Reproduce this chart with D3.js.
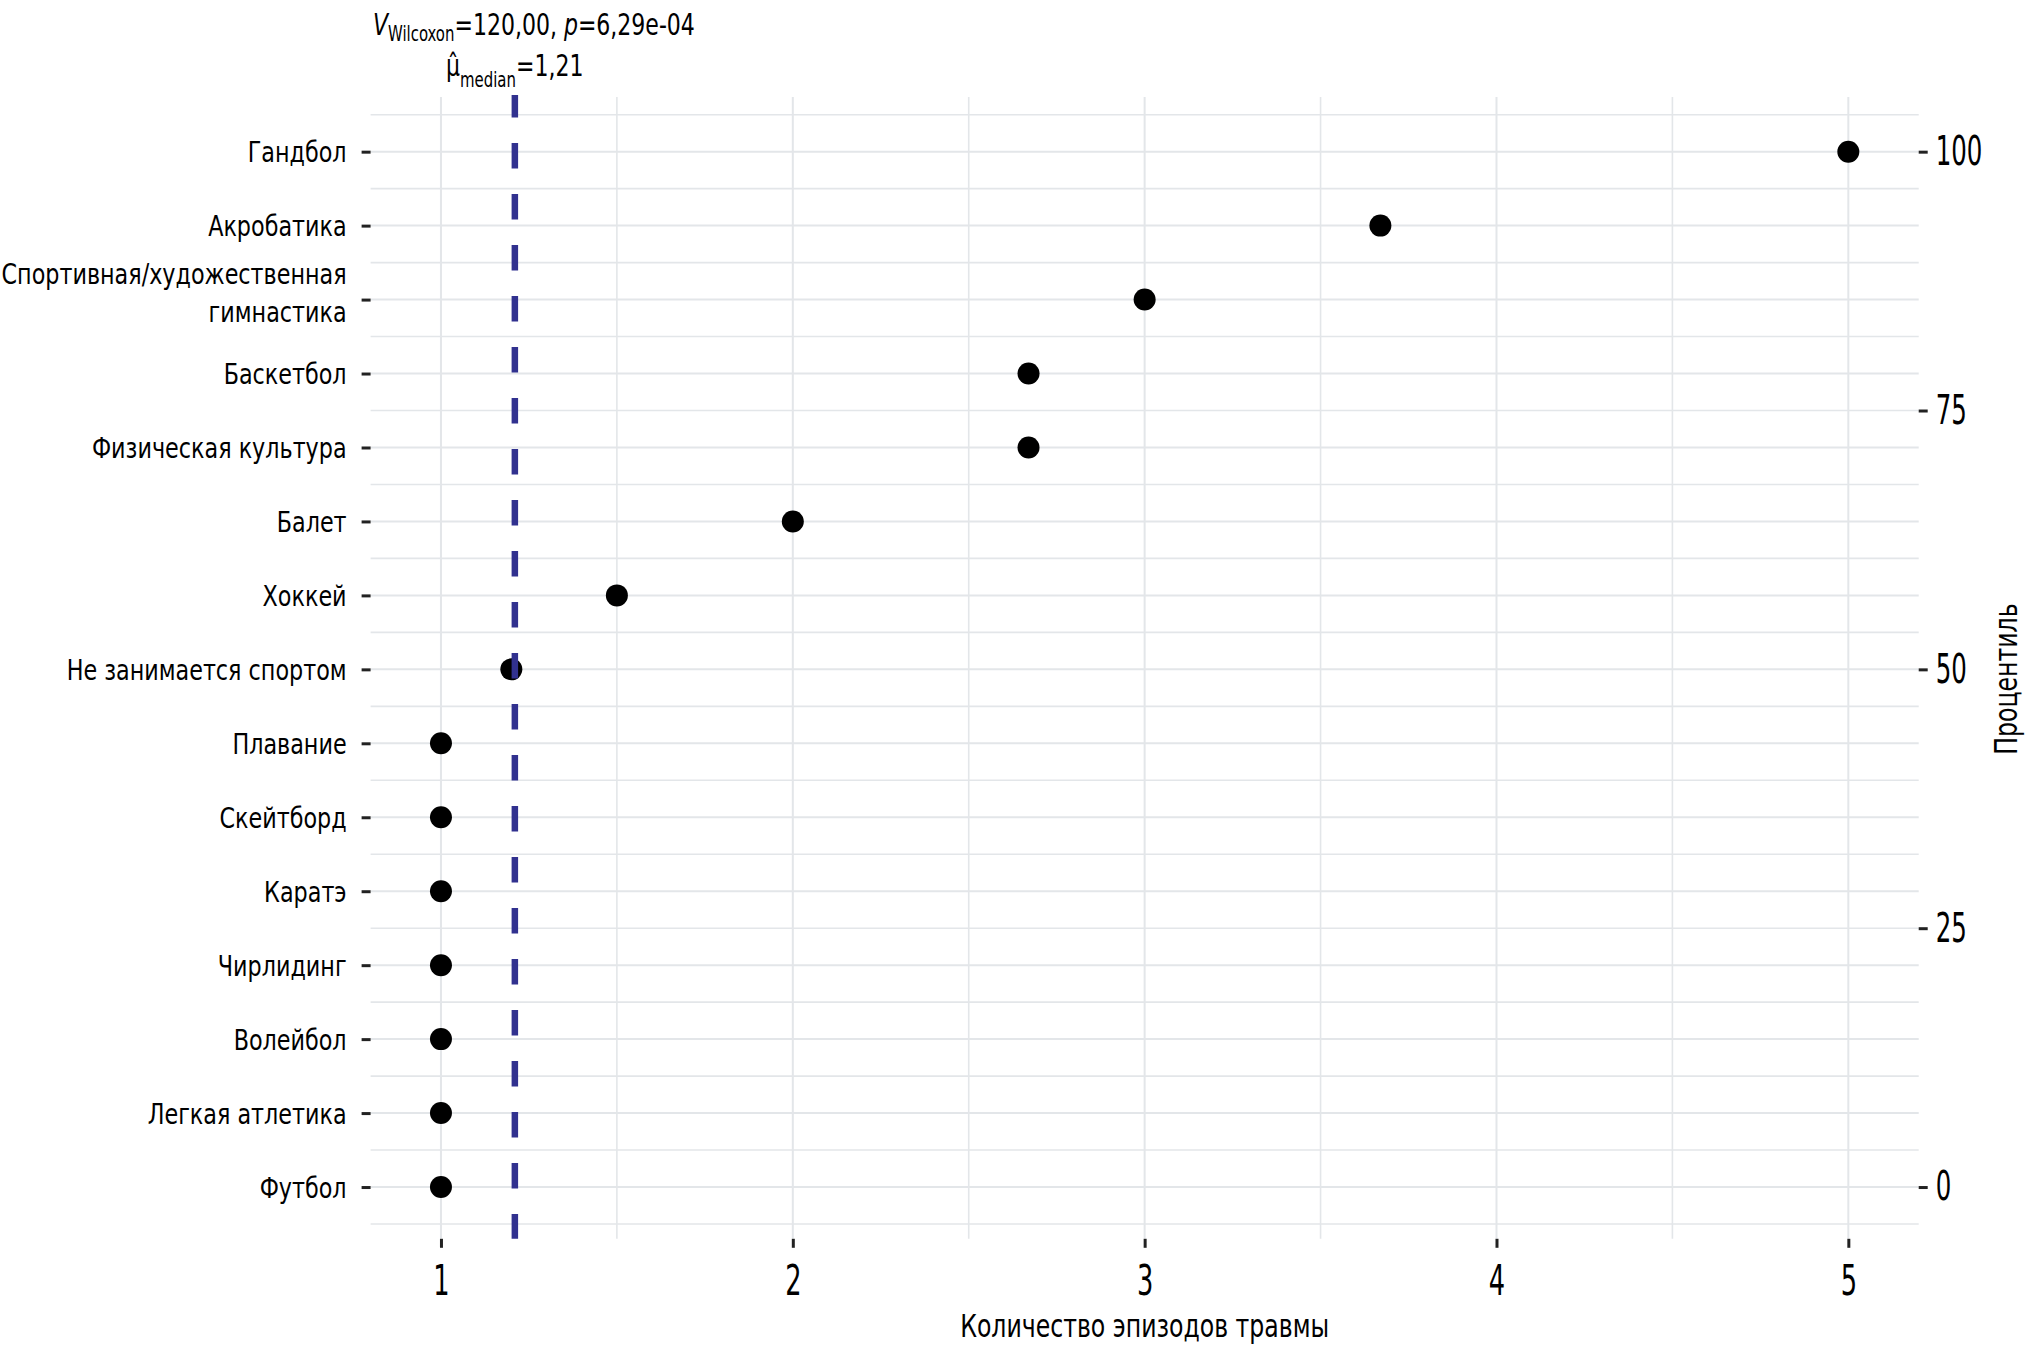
<!DOCTYPE html>
<html>
<head>
<meta charset="utf-8">
<script src="https://cdn.jsdelivr.net/npm/d3@7/dist/d3.min.js"></script>
<style>
  html, body { margin: 0; padding: 0; background: #fff; }
  svg { display: block; }
  text { font-family: "DejaVu Sans Condensed", "DejaVu Sans", sans-serif; font-stretch: condensed; fill: #000; }
</style>
</head>
<body>
<svg id="chart" width="2032" height="1349"></svg>
<script>
// ---- data (rank order, bottom to top) ----
const categories = [
  "Футбол", "Легкая атлетика", "Волейбол", "Чирлидинг", "Каратэ",
  "Скейтборд", "Плавание", "Не занимается спортом", "Хоккей", "Балет",
  "Физическая культура", "Баскетбол", "Спортивная/художественная\nгимнастика",
  "Акробатика", "Гандбол"
];
const episodes = [1, 1, 1, 1, 1, 1, 1, 1.2, 1.5, 2, 2.67, 2.67, 3, 3.67, 5];
const xTicks = [1, 2, 3, 4, 5];
const xMinorTicks = [1.5, 2.5, 3.5, 4.5];
const percentileTicks = [0, 25, 50, 75, 100];
const medianEstimate = 1.21;
const xTitle = "Количество эпизодов травмы";
const yRightTitle = "Процентиль";

// ---- layout ----
const svg = d3.select("#chart");
const panel = { left: 370.6, right: 1918.7, top: 99.9, bottom: 1238.8 };

const x = d3.scaleLinear().domain([0.8, 5.2]).range([panel.left, panel.right]);
const y = d3.scaleLinear().domain([0.3, 15.7]).range([panel.bottom, panel.top]);
const n = categories.length;
const pct = d3.scaleLinear().domain([0, 100]).range([y(1), y(n)]);

const gridCol = "#e3e6e9";

// horizontal grid (minor at half ranks, major at ranks)
svg.append("g").selectAll("line").data(d3.range(0.5, n + 1, 1)).join("line")
  .attr("x1", panel.left).attr("x2", panel.right)
  .attr("y1", d => y(d)).attr("y2", d => y(d))
  .attr("stroke", gridCol).attr("stroke-width", 1.6);
svg.append("g").selectAll("line").data(d3.range(1, n + 1)).join("line")
  .attr("x1", panel.left).attr("x2", panel.right)
  .attr("y1", d => y(d)).attr("y2", d => y(d))
  .attr("stroke", gridCol).attr("stroke-width", 2);

// vertical grid
svg.append("g").selectAll("line").data(xMinorTicks).join("line")
  .attr("x1", d => x(d)).attr("x2", d => x(d))
  .attr("y1", 97).attr("y2", panel.bottom)
  .attr("stroke", gridCol).attr("stroke-width", 1.6);
svg.append("g").selectAll("line").data(xTicks).join("line")
  .attr("x1", d => x(d)).attr("x2", d => x(d))
  .attr("y1", 97).attr("y2", panel.bottom)
  .attr("stroke", gridCol).attr("stroke-width", 2);

// ---- axes ----
const tickCol = "#222";
const digitSX = 0.68;
const labelSX = 0.885;
const titleSX = 0.82;

// bottom axis
const xAxis = d3.axisBottom(x).tickValues(xTicks).tickSize(9).tickPadding(17)
  .tickFormat(d3.format("d"));
const gx = svg.append("g").attr("transform", `translate(0,${panel.bottom})`).call(xAxis);
gx.select(".domain").remove();
gx.selectAll(".tick line").attr("stroke", tickCol).attr("stroke-width", 3);
gx.selectAll(".tick text").attr("font-size", 42).attr("fill", "#000")
  .attr("font-family", null)
  .attr("transform", `scale(${digitSX},1)`);

// left axis (categories)
const yAxis = d3.axisLeft(y).tickValues(d3.range(1, n + 1)).tickSize(9).tickPadding(16)
  .tickFormat(() => "");
const gy = svg.append("g").attr("transform", `translate(${panel.left},0)`).call(yAxis);
gy.select(".domain").remove();
gy.selectAll(".tick line").attr("stroke", tickCol).attr("stroke-width", 3);
gy.selectAll(".tick").each(function(d) {
  const lines = categories[d - 1].split("\n");
  const t = d3.select(this).select("text")
    .attr("font-size", 28).attr("fill", "#000").attr("font-family", null)
    .attr("x", null).attr("dy", null)
    .attr("transform", `translate(-24,0) scale(${labelSX},1)`);
  const lh = 38;
  const off = lines.length > 1 ? -(lines.length - 1) * lh / 2 - 7 : 0;
  lines.forEach((s, i) => {
    t.append("tspan").attr("x", 0).attr("dy", i === 0 ? (off + 10) : lh).text(s);
  });
});

// right axis (percentile)
const yrAxis = d3.axisRight(pct).tickValues(percentileTicks).tickSize(9).tickPadding(8);
const gyr = svg.append("g").attr("transform", `translate(${panel.right},0)`).call(yrAxis);
gyr.select(".domain").remove();
gyr.selectAll(".tick line").attr("stroke", tickCol).attr("stroke-width", 3);
gyr.selectAll(".tick text").attr("font-size", 40).attr("fill", "#000").attr("font-family", null)
  .attr("x", null)
  .attr("transform", `translate(17,0) scale(${digitSX},1)`);

// ---- points ----
svg.append("g").selectAll("circle").data(episodes).join("circle")
  .attr("cx", d => x(d)).attr("cy", (d, i) => y(i + 1))
  .attr("r", 11).attr("fill", "#000");

// ---- median line ----
svg.append("line")
  .attr("x1", x(medianEstimate)).attr("x2", x(medianEstimate))
  .attr("y1", 95).attr("y2", panel.bottom)
  .attr("stroke", "#31318f").attr("stroke-width", 6.5)
  .attr("stroke-dasharray", "25.5 25.5").attr("stroke-dashoffset", 3);

// ---- titles ----
svg.append("text")
  .attr("transform", `translate(${(panel.left + panel.right) / 2},1337) scale(${titleSX},1)`)
  .attr("text-anchor", "middle").attr("font-size", 32).text(xTitle);

svg.append("text")
  .attr("transform", `translate(2017,679) rotate(-90) scale(${titleSX},1)`)
  .attr("text-anchor", "middle").attr("font-size", 32).text(yRightTitle);

// ---- subtitle ----
const subSX = 0.79;
const s1 = svg.append("text").attr("transform", `translate(373,35) scale(${subSX},1)`).attr("font-size", 31);
s1.append("tspan").attr("font-style", "italic").text("V");
s1.append("tspan").attr("font-size", 21).attr("dy", 6).text("Wilcoxon");
s1.append("tspan").attr("dy", -6).text("=120,00, ");
s1.append("tspan").attr("font-style", "italic").text("p");
s1.append("tspan").text("=6,29e-04");

const s2 = svg.append("text").attr("transform", `translate(446,76) scale(${subSX},1)`).attr("font-size", 31);
s2.append("tspan").text("μ\u0302");
s2.append("tspan").attr("font-size", 21).attr("dy", 11).text("median");
s2.append("tspan").attr("dy", -11).text("=1,21");
</script>
</body>
</html>
